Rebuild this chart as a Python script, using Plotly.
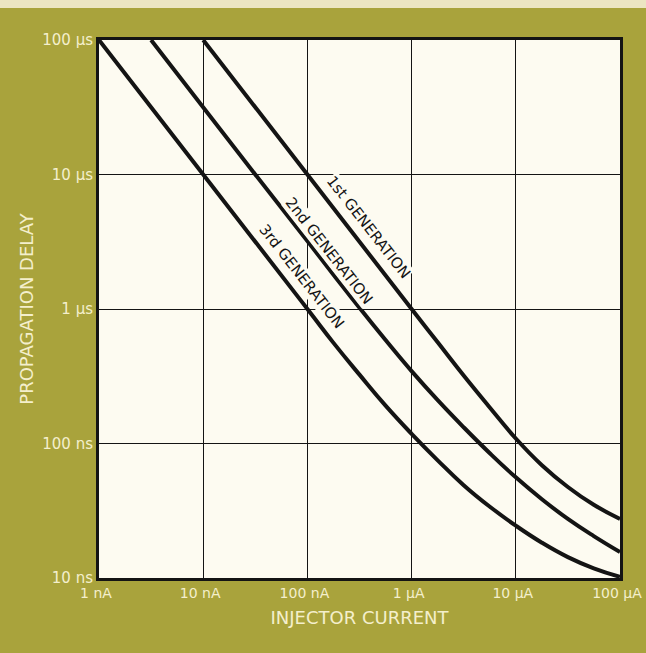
import plotly.graph_objects as go

# injector current (A) / propagation delay (s)
gen1_current = [1e-8, 1e-7, 1e-6, 1.78e-6, 3.16e-6, 5.6e-6, 1e-5, 1.78e-5,
                3.16e-5, 5.6e-5, 1e-4]
gen1_delay = [1e-4, 1e-5, 1e-6, 5.65e-7, 3.2e-7, 1.86e-7, 1.09e-7, 6.9e-8,
              4.75e-8, 3.5e-8, 2.75e-8]

gen2_current = [3.16e-9, 3.16e-8, 1e-7, 1.78e-7, 3.16e-7, 5.6e-7, 1e-6, 1.78e-6,
                3.16e-6, 5.6e-6, 1e-5, 1.78e-5, 3.16e-5, 5.6e-5, 1e-4]
gen2_delay = [1e-4, 1e-5, 3.2e-6, 1.8e-6, 1.02e-6, 5.9e-7, 3.45e-7, 2.1e-7,
              1.32e-7, 8.5e-8, 5.6e-8, 3.85e-8, 2.75e-8, 2.05e-8, 1.56e-8]

gen3_current = [1e-9, 1e-8, 1e-7, 1.78e-7, 3.16e-7, 5.6e-7, 1e-6, 1.78e-6,
                3.16e-6, 5.6e-6, 1e-5, 1.78e-5, 3.16e-5, 5.6e-5, 1e-4]
gen3_delay = [1e-4, 1e-5, 1e-6, 5.6e-7, 3.25e-7, 1.92e-7, 1.18e-7, 7.5e-8,
              4.9e-8, 3.4e-8, 2.45e-8, 1.83e-8, 1.43e-8, 1.18e-8, 1.02e-8]

x_tickvals = [1e-9, 1e-8, 1e-7, 1e-6, 1e-5, 1e-4]
x_ticktext = ['1 nA', '10 nA', '100 nA', '1 µA', '10 µA', '100 µA']
y_tickvals = [1e-8, 1e-7, 1e-6, 1e-5, 1e-4]
y_ticktext = ['10 ns', '100 ns', '1 µs', '10 µs', '100 µs']

curve_labels = ['1st GENERATION', '2nd GENERATION', '3rd GENERATION']
# label centres, in log10 units of the axes
label_x = [-6.415, -6.79, -7.06]
label_y = [-5.39, -5.566, -5.757]

OLIVE = '#a9a33c'
PAPER = '#fdfbf1'
CREAM = '#f4efcc'
INK = '#141414'
FONT = 'DejaVu Sans, sans-serif'

fig = go.Figure()
for xs, ys in [(gen1_current, gen1_delay), (gen2_current, gen2_delay),
               (gen3_current, gen3_delay)]:
    fig.add_trace(go.Scatter(
        x=xs, y=ys, mode='lines',
        line=dict(color=INK, width=4, shape='spline', smoothing=1.3),
        showlegend=False, hoverinfo='skip'))

for txt, lx, ly in zip(curve_labels, label_x, label_y):
    fig.add_annotation(
        x=lx, y=ly, xref='x', yref='y', text=txt, showarrow=False,
        textangle=52, font=dict(family=FONT, size=15, color=INK),
        bgcolor=PAPER, borderpad=0)

# light strip along the top edge of the page
fig.add_shape(type='rect', xref='paper', yref='paper',
              x0=-0.3, x1=1.3, y0=1 + 32 / 538, y1=1 + 41 / 538,
              fillcolor='#ece5c2', line=dict(width=0), layer='below')

axis_common = dict(
    type='log', showgrid=True, gridcolor=INK, gridwidth=1.4,
    showline=True, linecolor=INK, linewidth=3, mirror=True,
    zeroline=False, ticks='', ticklabeloverflow='allow', automargin=False,
)

fig.update_xaxes(
    range=[-9, -4], tickvals=x_tickvals, ticktext=x_ticktext,
    tickfont=dict(family=FONT, size=14, color=CREAM), ticklabelshift=-3,
    title=dict(text='INJECTOR CURRENT', standoff=12,
               font=dict(family=FONT, size=18, color=CREAM)),
    **axis_common)
fig.update_yaxes(
    range=[-8, -4], tickvals=y_tickvals, ticktext=y_ticktext,
    tickfont=dict(family=FONT, size=15, color=CREAM),
    title=dict(text='PROPAGATION DELAY', standoff=4,
               font=dict(family=FONT, size=18, color=CREAM)),
    **axis_common)

fig.update_layout(
    width=646, height=653,
    margin=dict(l=99, r=26, t=40, b=75, autoexpand=False),
    paper_bgcolor=OLIVE, plot_bgcolor=PAPER,
)

fig.write_html('out.html', config={'displayModeBar': False},
               post_script="document.body.style.margin='0';document.body.style.overflow='hidden';")
